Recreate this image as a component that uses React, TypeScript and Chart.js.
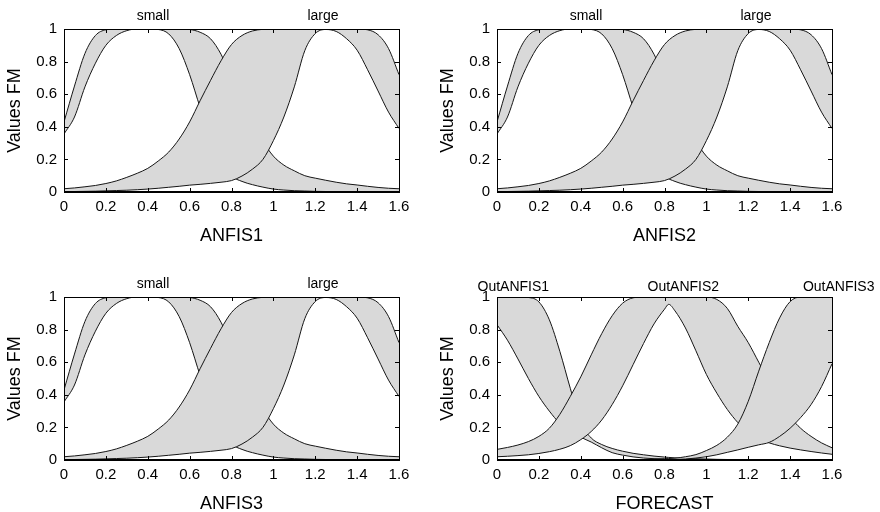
import React, { useEffect, useRef } from 'react';
import { Chart, registerables } from 'chart.js';

Chart.register(...registerables);

const FONT = '"Liberation Sans", Arial, Helvetica, sans-serif';
const FILL = '#d9d9d9';
const LINE = '#151515';

// x grid used for the ANFIS input membership functions
const anfisX = [0, 0.05, 0.1, 0.15, 0.2, 0.25, 0.3, 0.35, 0.4, 0.45, 0.5, 0.55, 0.6, 0.65, 0.7, 0.75, 0.8, 0.85, 0.9, 0.95, 1.0, 1.05, 1.1, 1.15, 1.2, 1.25, 1.3, 1.35, 1.4, 1.45, 1.5, 1.55, 1.6];

// "small" term (upper / lower membership)
const smallUpper = [0.43, 0.65, 0.85, 0.96, 0.995, 1, 1, 1, 1, 1, 1, 1, 0.997, 0.98, 0.94, 0.845, 0.7, 0.55, 0.42, 0.31, 0.22, 0.165, 0.13, 0.1, 0.085, 0.072, 0.06, 0.05, 0.043, 0.035, 0.028, 0.023, 0.02];
const smallLower = [0.356, 0.46, 0.645, 0.79, 0.9, 0.96, 0.99, 1, 1, 0.997, 0.97, 0.88, 0.72, 0.52, 0.35, 0.2, 0.1, 0.065, 0.045, 0.03, 0.018, 0.012, 0.008, 0.006, 0.004, 0.003, 0.002, 0.0015, 0.001, 0.001, 0.0005, 0, 0];

// "large" term (upper / lower membership)
const largeUpper = [0.02, 0.025, 0.032, 0.04, 0.052, 0.068, 0.09, 0.115, 0.145, 0.19, 0.245, 0.325, 0.43, 0.56, 0.685, 0.805, 0.905, 0.96, 0.988, 0.998, 1, 1, 1, 1, 1, 1, 1, 1, 1, 0.995, 0.965, 0.88, 0.72];
const largeLower = [0.002, 0.003, 0.004, 0.005, 0.007, 0.009, 0.011, 0.014, 0.018, 0.023, 0.029, 0.035, 0.042, 0.047, 0.053, 0.06, 0.07, 0.098, 0.14, 0.2, 0.315, 0.46, 0.645, 0.867, 0.972, 0.997, 0.985, 0.94, 0.87, 0.75, 0.62, 0.49, 0.39];

// x grid used for the FORECAST output membership functions
const forecastX = [0, 0.05, 0.1, 0.15, 0.2, 0.25, 0.3, 0.35, 0.4, 0.45, 0.5, 0.55, 0.6, 0.65, 0.7, 0.75, 0.8, 0.82, 0.85, 0.9, 0.95, 1.0, 1.05, 1.1, 1.15, 1.2, 1.25, 1.3, 1.35, 1.4, 1.45, 1.5, 1.55, 1.6];

const out1Upper = [1, 1, 1, 0.997, 0.97, 0.86, 0.667, 0.44, 0.23, 0.135, 0.095, 0.071, 0.054, 0.041, 0.032, 0.024, 0.018, 0.016, 0.013, 0.01, 0.008, 0.006, 0.004, 0.003, 0.002, 0.0015, 0.001, 0.001, 0, 0, 0, 0, 0, 0];
const out1Lower = [0.83, 0.735, 0.62, 0.5, 0.39, 0.3, 0.225, 0.18, 0.14, 0.11, 0.075, 0.045, 0.03, 0.019, 0.012, 0.008, 0.005, 0.004, 0.003, 0.002, 0.001, 0, 0, 0, 0, 0, 0, 0, 0, 0, 0, 0, 0, 0];
const out2Upper = [0.065, 0.077, 0.092, 0.113, 0.145, 0.195, 0.28, 0.39, 0.51, 0.645, 0.775, 0.885, 0.962, 0.995, 1, 1, 1, 1, 1, 1, 1, 1, 0.985, 0.93, 0.82, 0.72, 0.6, 0.48, 0.37, 0.265, 0.195, 0.145, 0.105, 0.075];
const out2Lower = [0.02, 0.023, 0.027, 0.032, 0.04, 0.051, 0.066, 0.088, 0.125, 0.175, 0.245, 0.34, 0.455, 0.585, 0.715, 0.835, 0.925, 0.955, 0.915, 0.81, 0.67, 0.525, 0.41, 0.31, 0.23, 0.17, 0.13, 0.105, 0.087, 0.073, 0.062, 0.052, 0.043, 0.035];
const out3Upper = [0, 0, 0, 0, 0, 0, 0, 0, 0, 0, 0, 0, 0, 0.001, 0.003, 0.005, 0.008, 0.009, 0.011, 0.02, 0.033, 0.058, 0.09, 0.14, 0.22, 0.36, 0.545, 0.72, 0.872, 0.972, 1, 1, 1, 1];
const out3Lower = [0, 0, 0, 0, 0, 0, 0, 0, 0, 0, 0, 0, 0, 0, 0, 0, 0.001, 0.002, 0.003, 0.006, 0.012, 0.02, 0.032, 0.047, 0.062, 0.078, 0.093, 0.108, 0.145, 0.195, 0.26, 0.34, 0.45, 0.59];

// axis ticks
const xTickValues = [0, 0.2, 0.4, 0.6, 0.8, 1, 1.2, 1.4, 1.6];
const xTickLabels = ['0', '0.2', '0.4', '0.6', '0.8', '1', '1.2', '1.4', '1.6'];
const yTickValues = [0, 0.2, 0.4, 0.6, 0.8, 1];
const yTickLabels = ['0', '0.2', '0.4', '0.6', '0.8', '1'];

// term names and their label positions (x value)
const anfisTerms = ['small', 'large'];
const anfisTermPos = [0.425, 1.237];
const forecastTerms = ['OutANFIS1', 'OutANFIS2', 'OutANFIS3'];
const forecastTermPos = [0.078, 0.89, 1.632];

const yTitle = 'Values FM';

type MF = { x: number[]; upper: number[]; lower: number[] };
type PanelCfg = {
  left: number; top: number; xTitle: string;
  terms: string[]; termPos: number[]; termOffset: number; mfs: MF[];
};

const anfisMFs: MF[] = [
  { x: anfisX, upper: smallUpper, lower: smallLower },
  { x: anfisX, upper: largeUpper, lower: largeLower },
];
const forecastMFs: MF[] = [
  { x: forecastX, upper: out1Upper, lower: out1Lower },
  { x: forecastX, upper: out2Upper, lower: out2Lower },
  { x: forecastX, upper: out3Upper, lower: out3Lower },
];

const panels: PanelCfg[] = [
  { left: 0, top: 0, xTitle: 'ANFIS1', terms: anfisTerms, termPos: anfisTermPos, termOffset: 9, mfs: anfisMFs },
  { left: 433, top: 0, xTitle: 'ANFIS2', terms: anfisTerms, termPos: anfisTermPos, termOffset: 9, mfs: anfisMFs },
  { left: 0, top: 268, xTitle: 'ANFIS3', terms: anfisTerms, termPos: anfisTermPos, termOffset: 9, mfs: anfisMFs },
  { left: 433, top: 268, xTitle: 'FORECAST', terms: forecastTerms, termPos: forecastTermPos, termOffset: 6, mfs: forecastMFs },
];

const CW = 447;
const CH = 250;

const termLabelPlugin = {
  id: 'termLabels',
  afterDraw(chart: any, _args: any, opts: any) {
    const { ctx, chartArea } = chart;
    const xs = chart.scales.x;
    ctx.save();
    ctx.font = `14px ${FONT}`;
    ctx.fillStyle = '#000';
    ctx.textAlign = 'center';
    ctx.textBaseline = 'alphabetic';
    (opts.names || []).forEach((n: string, i: number) => {
      ctx.fillText(n, xs.getPixelForValue(opts.pos[i]), chartArea.top - opts.offset);
    });
    ctx.restore();
  },
};

const framePlugin = {
  id: 'frame',
  afterDatasetsDraw(chart: any) {
    const { ctx, chartArea: a } = chart;
    const xs = chart.scales.x;
    const ys = chart.scales.y;
    const L = 4;
    ctx.save();
    ctx.strokeStyle = '#000';
    ctx.lineWidth = 1;
    ctx.beginPath();
    xTickValues.forEach((v) => {
      const px = Math.round(xs.getPixelForValue(v)) + 0.5;
      ctx.moveTo(px, a.bottom); ctx.lineTo(px, a.bottom - L);
      ctx.moveTo(px, a.top); ctx.lineTo(px, a.top + L);
    });
    yTickValues.forEach((v) => {
      const py = Math.round(ys.getPixelForValue(v)) + 0.5;
      ctx.moveTo(a.left, py); ctx.lineTo(a.left + L, py);
      ctx.moveTo(a.right, py); ctx.lineTo(a.right - L, py);
    });
    ctx.stroke();
    ctx.strokeRect(Math.round(a.left) + 0.5, Math.round(a.top) + 0.5, Math.round(a.right - a.left), Math.round(a.bottom - a.top));
    ctx.lineWidth = 2;
    ctx.beginPath();
    ctx.moveTo(a.left, Math.round(a.bottom));
    ctx.lineTo(a.right + 0.5, Math.round(a.bottom));
    ctx.stroke();
    ctx.restore();
  },
};

function Panel({ cfg }: { cfg: PanelCfg }) {
  const ref = useRef<HTMLCanvasElement>(null);
  useEffect(() => {
    if (!ref.current) return;
    const datasets: any[] = [];
    const n = cfg.mfs.length;
    cfg.mfs.forEach((mf, k) => {
      const base = (n - k) * 2;
      datasets.push({
        data: mf.x.map((x, i) => ({ x, y: mf.upper[i] })),
        order: base - 1,
        fill: false,
        borderColor: LINE,
        borderWidth: 1,
        pointRadius: 0,
        cubicInterpolationMode: 'monotone',
      });
      datasets.push({
        data: mf.x.map((x, i) => ({ x, y: mf.lower[i] })),
        order: base,
        fill: '-1',
        backgroundColor: FILL,
        borderColor: LINE,
        borderWidth: 1,
        pointRadius: 0,
        cubicInterpolationMode: 'monotone',
      });
    });
    const tickFont = { family: FONT, size: 15 };
    const titleFont = { family: FONT, size: 18 };
    const chart = new Chart(ref.current, {
      type: 'line',
      data: { datasets },
      plugins: [termLabelPlugin, framePlugin],
      options: {
        animation: false,
        responsive: false,
        maintainAspectRatio: false,
        events: [],
        layout: { padding: { left: 0, top: 29, right: CW - 399, bottom: 0 } },
        plugins: {
          legend: { display: false },
          tooltip: { enabled: false },
          termLabels: { names: cfg.terms, pos: cfg.termPos, offset: cfg.termOffset },
        } as any,
        scales: {
          x: {
            type: 'linear',
            min: 0,
            max: 1.6,
            afterFit: (s: any) => { s.height = 58; },
            afterBuildTicks: (s: any) => { s.ticks = xTickValues.map((v) => ({ value: v })); },
            ticks: {
              callback: (_v: any, i: number) => xTickLabels[i],
              font: tickFont,
              color: '#000',
              padding: 6,
              maxRotation: 0,
              autoSkip: false,
            },
            grid: { display: false, drawTicks: false },
            border: { display: false },
            title: { display: true, text: cfg.xTitle, font: titleFont, color: '#000', padding: { top: 0, bottom: 3 } },
          },
          y: {
            type: 'linear',
            min: 0,
            max: 1,
            afterFit: (s: any) => { s.width = 64; },
            afterBuildTicks: (s: any) => { s.ticks = yTickValues.map((v) => ({ value: v })); },
            ticks: {
              callback: (_v: any, i: number) => yTickLabels[i],
              font: tickFont,
              color: '#000',
              padding: 7,
              autoSkip: false,
            },
            grid: { display: false, drawTicks: false },
            border: { display: false },
            title: { display: true, text: yTitle, font: titleFont, color: '#000', padding: { top: 4, bottom: 0 } },
          },
        },
      } as any,
    });
    return () => chart.destroy();
  }, [cfg]);
  return (
    <canvas
      ref={ref}
      width={CW}
      height={CH}
      style={{ position: 'absolute', left: cfg.left, top: cfg.top, width: CW, height: CH }}
    />
  );
}

export default function App() {
  return (
    <div style={{ position: 'fixed', left: 0, top: 0, width: 880, height: 512, overflow: 'hidden', background: '#fff' }}>
      {panels.map((p, i) => (
        <Panel key={i} cfg={p} />
      ))}
    </div>
  );
}
